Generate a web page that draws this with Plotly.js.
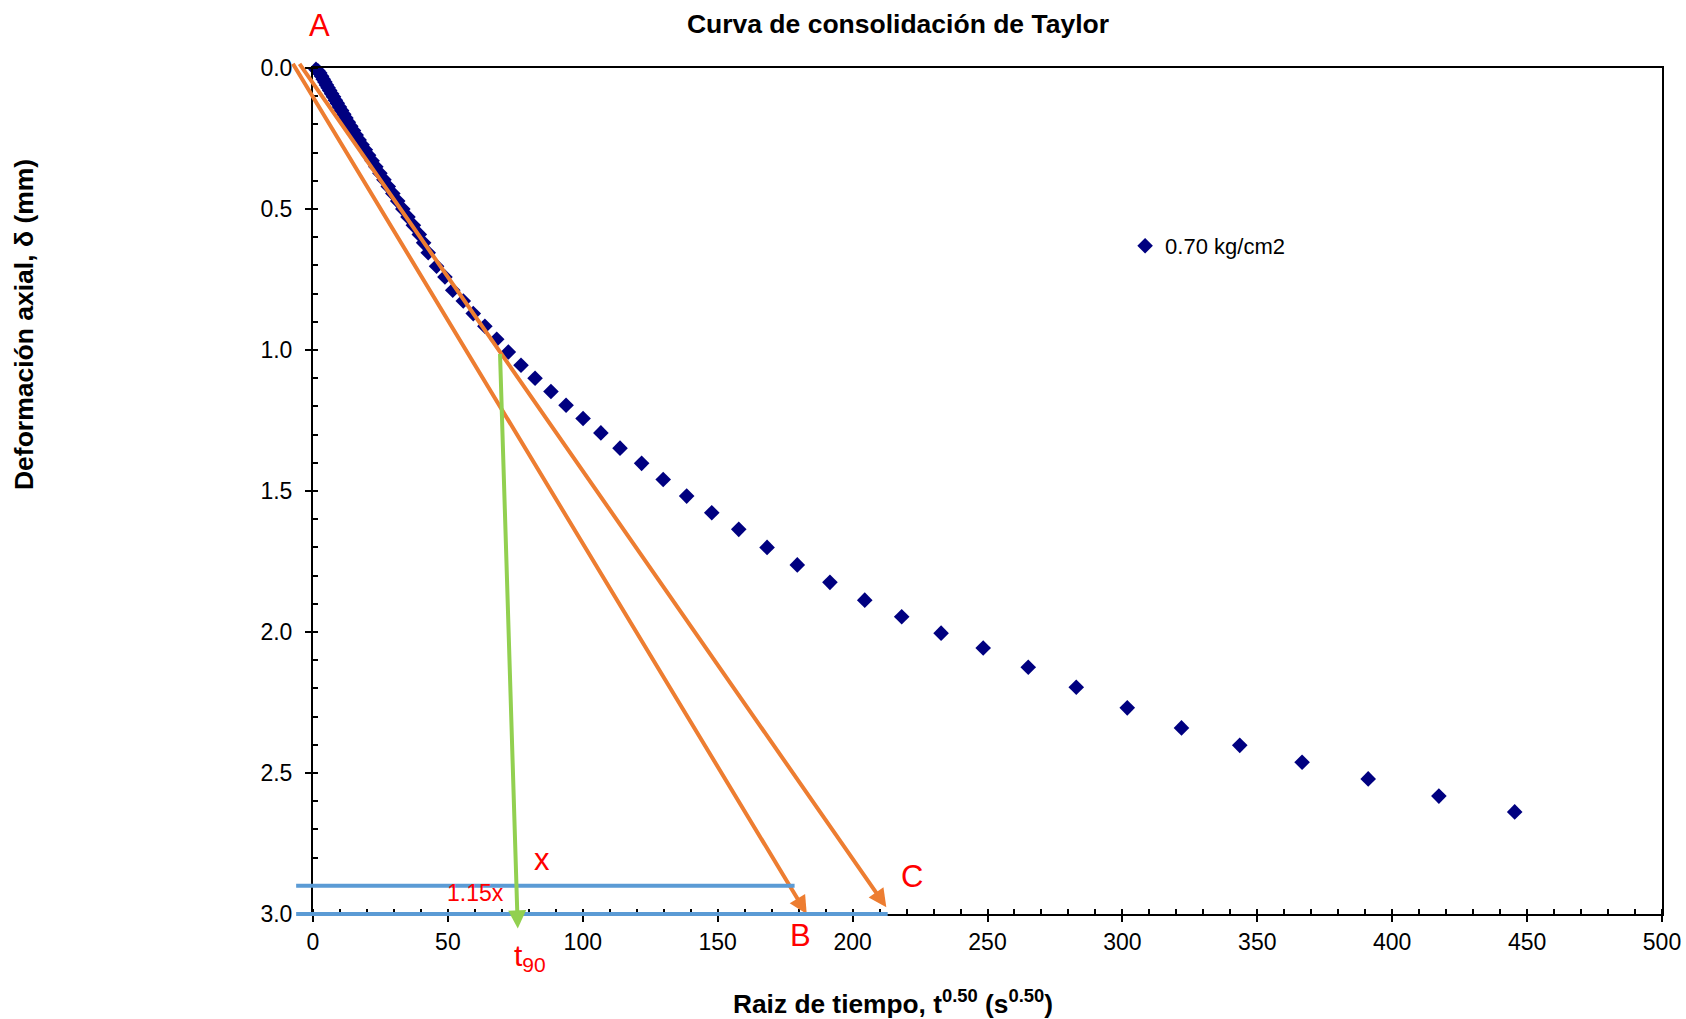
<!DOCTYPE html>
<html>
<head>
<meta charset="utf-8">
<script src="https://cdn.plot.ly/plotly-3.0.1.min.js"></script>
<style>
html,body{margin:0;padding:0;background:#fff;}
#chart{width:1686px;height:1019px;}
</style>
</head>
<body>
<div id="chart"></div>
<script>
// ---- Data: square root of time (s^0.5) vs axial deformation (mm) ----
const sqrtTime = [
  1.1, 1.8, 2.5, 3.2, 3.8, 4.4, 5.0, 5.6, 6.2, 6.9,
  7.6, 8.3, 9.0, 9.8, 10.6, 11.4, 12.2, 13.1, 14.0, 15.0,
  16.0, 17.1, 18.2, 19.4, 20.6, 21.9, 23.3, 24.8, 26.3, 27.9,
  29.6, 31.4, 33.3, 35.2, 37.2, 39.4, 41.0, 42.7, 45.8, 48.9,
  51.8, 55.7, 59.4, 63.7, 68.1, 72.4, 77.1, 82.3, 88.2, 93.8,
  100.1, 106.7, 113.8, 121.8, 129.8, 138.5, 147.8, 157.8, 168.3, 179.5,
  191.6, 204.5, 218.2, 232.8, 248.4, 265.1, 282.9, 301.8, 321.9, 343.5,
  366.6, 391.1, 417.3, 445.4
];
const deformation = [
  0.005, 0.010, 0.018, 0.029, 0.040, 0.050, 0.060, 0.070, 0.080, 0.091,
  0.102, 0.114, 0.125, 0.138, 0.151, 0.164, 0.177, 0.192, 0.207, 0.222,
  0.238, 0.255, 0.272, 0.290, 0.309, 0.329, 0.350, 0.373, 0.396, 0.420,
  0.445, 0.472, 0.500, 0.528, 0.558, 0.590, 0.620, 0.655, 0.703, 0.741,
  0.788, 0.826, 0.871, 0.916, 0.962, 1.007, 1.054, 1.100, 1.147, 1.196,
  1.243, 1.294, 1.348, 1.402, 1.459, 1.518, 1.577, 1.636, 1.700, 1.762,
  1.824, 1.887, 1.946, 2.004, 2.057, 2.125, 2.196, 2.269, 2.340, 2.402,
  2.462, 2.521, 2.582, 2.638
];
const seriesName = '0.70 kg/cm2';

// ---- Taylor construction lines: [start, end] in data units ----
const tangentB_x = [-7.9, 183.0];
const tangentB_y = [-0.022, 3.0];
const tangentC_x = [-5.5, 212.5];
const tangentC_y = [-0.022, 2.976];
const t90Line_x = [69.3, 75.9];
const t90Line_y = [1.007, 3.051];
const level115_x = [-6.8, 178.5];
const level115_y = [2.900, 2.900];
const levelBase_x = [-6.8, 213.0];
const levelBase_y = [3.0, 3.0];

// ---- Tick / axis settings ----
const xTickStep = 50, xMinorStep = 10, xRange = [0, 500];
const yTickStep = 0.5, yMinorStep = 0.1, yRange = [3, 0];

const FONT = 'Liberation Sans, Arial, Helvetica, sans-serif';

function guide(xs, ys, color, width, head) {
  return {
    xref: 'x', yref: 'y', axref: 'x', ayref: 'y',
    x: xs[1], y: ys[1], ax: xs[0], ay: ys[0],
    text: ' ', font: {size: 1},
    showarrow: true, arrowcolor: color, arrowwidth: width,
    arrowhead: head ? 2 : 0, arrowsize: 0.9, standoff: 0, startstandoff: 0
  };
}
function label(text, px, py, size) {
  return {
    xref: 'paper', yref: 'paper', x: px, y: py,
    xanchor: 'center', yanchor: 'middle', showarrow: false,
    text: text, font: {family: FONT, size: size, color: '#FF0000'}
  };
}

const trace = {
  type: 'scatter', mode: 'markers', name: seriesName,
  x: sqrtTime, y: deformation,
  marker: {symbol: 'diamond', size: 12, color: '#000080'},
  cliponaxis: false
};

const layout = {
  width: 1686, height: 1019,
  margin: {l: 313, r: 24, t: 68, b: 105},
  paper_bgcolor: '#ffffff', plot_bgcolor: '#ffffff',
  font: {family: FONT, color: '#000000'},
  title: {
    text: '<b>Curva de consolidación de Taylor</b>',
    font: {family: FONT, size: 26.5, color: '#000000'},
    xref: 'container', yref: 'container', x: 0.5326, y: 0.9764,
    xanchor: 'center', yanchor: 'middle'
  },
  showlegend: true,
  legend: {
    x: 0.6020, y: 0.7896, xanchor: 'left', yanchor: 'middle',
    bgcolor: 'rgba(0,0,0,0)', font: {family: FONT, size: 22, color: '#000000'}
  },
  xaxis: {
    range: xRange, tick0: 0, dtick: xTickStep,
    showgrid: false, zeroline: false,
    showline: true, linewidth: 2, linecolor: '#000000', mirror: true,
    ticks: 'outside', ticklen: 6, tickwidth: 1.5, tickcolor: '#000000',
    minor: {dtick: xMinorStep, ticks: 'inside', ticklen: 5, tickwidth: 1.5, tickcolor: '#000000'},
    tickfont: {family: FONT, size: 23, color: '#000000'}
  },
  yaxis: {
    range: yRange, tick0: 0, dtick: yTickStep, tickformat: '.1f',
    showgrid: false, zeroline: false,
    showline: true, linewidth: 2, linecolor: '#000000', mirror: true,
    ticks: 'outside', ticklen: 6, tickwidth: 1.5, tickcolor: '#000000',
    ticklabelstandoff: 8,
    minor: {dtick: yMinorStep, ticks: 'inside', ticklen: 5, tickwidth: 1.5, tickcolor: '#000000'},
    tickfont: {family: FONT, size: 23, color: '#000000'}
  },
  annotations: [
    // axis titles
    {xref: 'paper', yref: 'paper', x: 0.4303, y: -0.104, xanchor: 'center', yanchor: 'middle',
     showarrow: false, text: '<b>Raiz de tiempo, t<sup>0.50</sup> (s<sup>0.50</sup>)</b>',
     font: {family: FONT, size: 26.3, color: '#000000'}},
    {xref: 'paper', yref: 'paper', x: -0.2142, y: 0.6962, xanchor: 'center', yanchor: 'middle',
     showarrow: false, textangle: -90, text: '<b>Deformación axial, δ (mm)</b>',
     font: {family: FONT, size: 26.5, color: '#000000'}},
    // construction lines
    guide(tangentB_x, tangentB_y, '#ED7D31', 4, true),
    guide(tangentC_x, tangentC_y, '#ED7D31', 4, true),
    guide(level115_x, level115_y, '#5B9BD5', 4, false),
    guide(levelBase_x, levelBase_y, '#5B9BD5', 4, false),
    guide(t90Line_x, t90Line_y, '#92D050', 4, true),
    // red labels
    label('A', 0.00467, 1.0508, 31),
    label('B', 0.3615, -0.026, 31),
    label('C', 0.4440, 0.0449, 31),
    label('x', 0.1701, 0.0647, 31),
    label('1.15x', 0.1208, 0.0248, 23),
    label('t<sub>90</sub>', 0.1609, -0.052, 30)
  ]
};

Plotly.newPlot('chart', [trace], layout, {displayModeBar: false, responsive: false});
</script>
</body>
</html>
